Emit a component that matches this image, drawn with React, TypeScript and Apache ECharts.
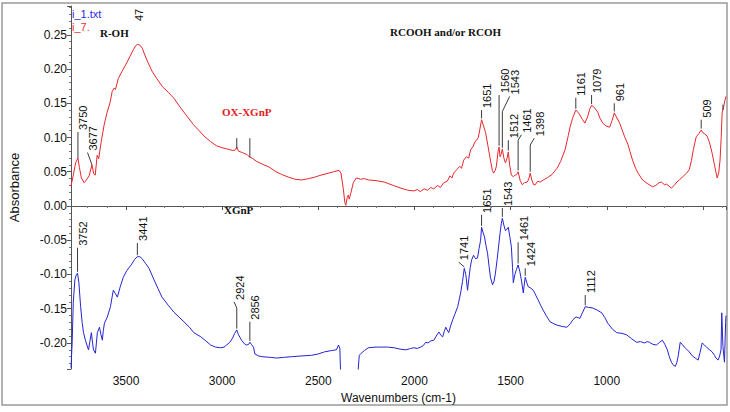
import React, { useEffect, useRef } from 'react';
import * as echarts from 'echarts';

// ---- OX-XGnP (red, "i_7.") spectrum: wavenumber (cm-1) / absorbance ----
const redWn = [3786, 3774, 3762, 3750, 3742, 3732, 3718, 3706, 3692, 3677, 3668, 3660, 3650, 3642, 3630, 3614, 3598, 3582, 3572, 3562, 3555, 3540, 3520, 3500, 3480, 3462, 3450, 3440, 3428, 3415, 3400, 3385, 3365, 3340, 3310, 3280, 3250, 3215, 3180, 3150, 3120, 3090, 3060, 3030, 3000, 2970, 2945, 2930, 2924, 2915, 2895, 2870, 2856, 2845, 2820, 2790, 2757, 2720, 2690, 2654, 2620, 2587, 2550, 2520, 2499, 2460, 2420, 2392, 2382, 2370, 2362, 2357, 2350, 2344, 2339, 2330, 2318, 2302, 2280, 2260, 2240, 2200, 2158, 2110, 2070, 2035, 2003, 1985, 1970, 1950, 1932, 1915, 1900, 1880, 1865, 1848, 1830, 1815, 1805, 1796, 1780, 1765, 1755, 1744, 1730, 1718, 1708, 1695, 1685, 1677, 1668, 1660, 1651, 1642, 1630, 1618, 1605, 1595, 1589, 1580, 1574, 1565, 1560, 1555, 1550, 1543, 1535, 1527, 1518, 1512, 1505, 1496, 1486, 1476, 1468, 1461, 1450, 1439, 1428, 1413, 1405, 1398, 1390, 1380, 1372, 1360, 1346, 1330, 1310, 1285, 1259, 1240, 1217, 1200, 1191, 1178, 1161, 1150, 1140, 1126, 1114, 1100, 1088, 1079, 1065, 1047, 1035, 1021, 1005, 985, 972, 961, 950, 933, 920, 907, 890, 880, 866, 850, 835, 814, 790, 762, 745, 728, 716, 700, 690, 676, 664, 650, 635, 623, 600, 585, 571, 560, 550, 535, 520, 509, 500, 490, 478, 465, 452, 440, 426, 418, 411, 405, 400, 392, 385, 380];
const redAbs = [0.029, 0.045, 0.063, 0.070, 0.056, 0.041, 0.034, 0.038, 0.044, 0.060, 0.047, 0.045, 0.074, 0.069, 0.092, 0.118, 0.137, 0.152, 0.167, 0.172, 0.170, 0.186, 0.197, 0.207, 0.218, 0.228, 0.234, 0.236, 0.235, 0.230, 0.219, 0.209, 0.197, 0.186, 0.174, 0.166, 0.157, 0.143, 0.130, 0.119, 0.110, 0.101, 0.094, 0.088, 0.085, 0.083, 0.081, 0.082, 0.086, 0.080, 0.078, 0.075, 0.071, 0.070, 0.065, 0.061, 0.057, 0.050, 0.046, 0.042, 0.039, 0.038, 0.040, 0.042, 0.044, 0.047, 0.050, 0.052, 0.048, 0.025, 0.005, 0.001, 0.012, 0.016, 0.010, 0.020, 0.034, 0.041, 0.039, 0.040, 0.038, 0.037, 0.035, 0.030, 0.026, 0.023, 0.022, 0.024, 0.021, 0.025, 0.023, 0.027, 0.025, 0.030, 0.027, 0.034, 0.036, 0.044, 0.041, 0.048, 0.053, 0.058, 0.055, 0.067, 0.072, 0.070, 0.082, 0.087, 0.094, 0.096, 0.100, 0.112, 0.126, 0.118, 0.107, 0.088, 0.067, 0.052, 0.048, 0.052, 0.058, 0.080, 0.086, 0.072, 0.075, 0.083, 0.070, 0.063, 0.070, 0.079, 0.060, 0.045, 0.043, 0.045, 0.046, 0.050, 0.037, 0.031, 0.034, 0.035, 0.040, 0.048, 0.038, 0.031, 0.031, 0.036, 0.035, 0.038, 0.041, 0.046, 0.055, 0.065, 0.082, 0.103, 0.115, 0.128, 0.140, 0.137, 0.133, 0.126, 0.121, 0.130, 0.142, 0.147, 0.144, 0.137, 0.128, 0.121, 0.117, 0.115, 0.125, 0.136, 0.130, 0.121, 0.111, 0.101, 0.090, 0.080, 0.067, 0.055, 0.047, 0.038, 0.033, 0.028, 0.030, 0.034, 0.035, 0.031, 0.032, 0.029, 0.026, 0.030, 0.035, 0.038, 0.044, 0.048, 0.053, 0.066, 0.082, 0.101, 0.106, 0.111, 0.107, 0.105, 0.102, 0.092, 0.077, 0.060, 0.041, 0.048, 0.067, 0.100, 0.136, 0.145, 0.155, 0.160];

// ---- XGnP (blue, "i_1.txt") spectrum ----
const blueWn = [3786, 3780, 3774, 3766, 3758, 3752, 3745, 3736, 3728, 3721, 3711, 3700, 3695, 3688, 3680, 3674, 3669, 3659, 3654, 3649, 3638, 3630, 3623, 3618, 3612, 3597, 3581, 3566, 3555, 3545, 3530, 3514, 3495, 3473, 3455, 3441, 3428, 3416, 3398, 3380, 3354, 3333, 3313, 3280, 3251, 3225, 3199, 3170, 3147, 3111, 3085, 3060, 3035, 3008, 2990, 2977, 2960, 2946, 2935, 2924, 2915, 2899, 2885, 2873, 2862, 2856, 2848, 2837, 2830, 2810, 2793, 2750, 2716, 2680, 2638, 2590, 2535, 2500, 2468, 2430, 2406, 2395, 2388, 2384, 2378, 2300, 2293, 2287, 2277, 2260, 2240, 2200, 2173, 2140, 2106, 2075, 2044, 2020, 2003, 1985, 1967, 1955, 1941, 1930, 1915, 1899, 1887, 1873, 1862, 1853, 1845, 1837, 1830, 1822, 1812, 1801, 1790, 1775, 1760, 1750, 1741, 1733, 1724, 1718, 1710, 1703, 1693, 1682, 1672, 1664, 1656, 1651, 1644, 1636, 1628, 1620, 1612, 1605, 1594, 1586, 1579, 1570, 1563, 1555, 1548, 1543, 1535, 1527, 1522, 1512, 1504, 1496, 1490, 1486, 1478, 1470, 1461, 1452, 1444, 1434, 1430, 1424, 1416, 1408, 1395, 1382, 1370, 1357, 1344, 1331, 1315, 1295, 1275, 1258, 1230, 1207, 1190, 1176, 1160, 1150, 1140, 1125, 1112, 1095, 1072, 1050, 1026, 1010, 995, 970, 948, 920, 897, 870, 845, 825, 804, 790, 778, 760, 742, 725, 711, 698, 685, 675, 664, 652, 643, 635, 628, 618, 608, 597, 585, 571, 555, 540, 525, 515, 504, 492, 478, 465, 452, 440, 432, 421, 413, 406, 402, 396, 388, 382, 380];
const blueAbs = [-0.236, -0.200, -0.140, -0.108, -0.100, -0.098, -0.112, -0.147, -0.170, -0.185, -0.196, -0.206, -0.210, -0.198, -0.185, -0.200, -0.210, -0.215, -0.200, -0.185, -0.177, -0.188, -0.196, -0.182, -0.171, -0.162, -0.147, -0.123, -0.128, -0.133, -0.118, -0.104, -0.094, -0.086, -0.078, -0.074, -0.074, -0.077, -0.084, -0.091, -0.108, -0.121, -0.133, -0.145, -0.155, -0.162, -0.169, -0.177, -0.185, -0.191, -0.197, -0.203, -0.206, -0.207, -0.206, -0.203, -0.199, -0.193, -0.186, -0.181, -0.188, -0.196, -0.201, -0.203, -0.202, -0.199, -0.202, -0.206, -0.216, -0.219, -0.220, -0.221, -0.222, -0.221, -0.220, -0.219, -0.218, -0.216, -0.213, -0.211, -0.210, -0.203, -0.208, -0.245, -0.300, -0.300, -0.240, -0.218, -0.215, -0.211, -0.207, -0.206, -0.206, -0.206, -0.207, -0.209, -0.210, -0.208, -0.207, -0.208, -0.206, -0.204, -0.199, -0.200, -0.197, -0.196, -0.190, -0.184, -0.189, -0.191, -0.183, -0.177, -0.181, -0.185, -0.175, -0.166, -0.158, -0.147, -0.127, -0.110, -0.091, -0.100, -0.123, -0.108, -0.090, -0.079, -0.072, -0.077, -0.076, -0.062, -0.050, -0.031, -0.038, -0.045, -0.058, -0.069, -0.088, -0.104, -0.115, -0.110, -0.098, -0.078, -0.060, -0.040, -0.025, -0.018, -0.028, -0.036, -0.035, -0.031, -0.045, -0.060, -0.090, -0.112, -0.100, -0.093, -0.086, -0.096, -0.108, -0.127, -0.117, -0.104, -0.112, -0.118, -0.120, -0.123, -0.130, -0.137, -0.145, -0.152, -0.160, -0.169, -0.172, -0.174, -0.176, -0.177, -0.172, -0.166, -0.162, -0.163, -0.164, -0.155, -0.147, -0.148, -0.149, -0.152, -0.156, -0.163, -0.171, -0.180, -0.185, -0.186, -0.188, -0.194, -0.199, -0.198, -0.200, -0.198, -0.199, -0.202, -0.203, -0.199, -0.196, -0.202, -0.210, -0.220, -0.228, -0.233, -0.234, -0.228, -0.218, -0.199, -0.202, -0.206, -0.209, -0.213, -0.219, -0.222, -0.225, -0.214, -0.200, -0.203, -0.207, -0.210, -0.213, -0.218, -0.222, -0.225, -0.219, -0.210, -0.156, -0.205, -0.228, -0.170, -0.160];

// ---- peak annotations: [peakWn, peakAbs, leaderBendAbs, leaderEndWn, leaderEndAbs] ----
const redPeakLabels = ['3750', '3677', '', '', '1651', '1560', '1543', '1512', '1461', '1398', '1161', '1079', '961', '509', ''];
const redPeaks = [
  [3750, 0.070, 0.108, 3750, 0.108],
  [3677, 0.060, 0.060, 3700, 0.078],
  [2924, 0.084, 0.099, 2924, 0.099],
  [2856, 0.071, 0.099, 2856, 0.099],
  [1651, 0.128, 0.140, 1651, 0.140],
  [1560, 0.088, 0.162, 1560, 0.162],
  [1543, 0.085, 0.138, 1505, 0.160],
  [1512, 0.081, 0.096, 1512, 0.096],
  [1461, 0.052, 0.096, 1444, 0.104],
  [1398, 0.050, 0.089, 1377, 0.099],
  [1161, 0.142, 0.158, 1161, 0.158],
  [1079, 0.149, 0.162, 1079, 0.162],
  [961, 0.138, 0.150, 961, 0.150],
  [509, 0.113, 0.126, 509, 0.126],
  [396, 0.140, 0.148, 396, 0.148],
];
const bluePeakLabels = ['3752', '3441', '2924', '2856', '1741', '1651', '1543', '1461', '1424', '1112'];
const bluePeaks = [
  [3752, -0.096, -0.061, 3752, -0.061],
  [3441, -0.072, -0.054, 3441, -0.054],
  [2924, -0.179, -0.149, 2938, -0.140],
  [2856, -0.197, -0.169, 2856, -0.169],
  [1741, -0.089, -0.089, 1770, -0.082],
  [1651, -0.029, -0.013, 1651, -0.013],
  [1543, -0.016, -0.003, 1543, -0.003],
  [1461, -0.084, -0.053, 1461, -0.053],
  [1424, -0.102, -0.091, 1424, -0.091],
  [1112, -0.145, -0.130, 1112, -0.130],
];

const xTickLabels = [1000, 1500, 2000, 2500, 3000, 3500];

const RED = '#e8262c';
const BLUE = '#2424d2';
const SANS = '"Liberation Sans", Arial, sans-serif';
const SERIF = '"Liberation Serif", "Times New Roman", serif';

const zip = (a: number[], b: number[]) => a.map((v, i) => [v, b[i]]);

const annoSeries = (rows: number[][], labels: string[]) => ({
  type: 'custom',
  coordinateSystem: 'cartesian2d',
  data: rows,
  encode: { x: [0, 3], y: [1, 2, 4] },
  clip: false,
  silent: true,
  z: 5,
  renderItem: (params: any, api: any) => {
    const p0 = api.coord([api.value(0), api.value(1)]);
    const p1 = api.coord([api.value(0), api.value(2)]);
    const p2 = api.coord([api.value(3), api.value(4)]);
    const label = labels[params.dataIndex];
    const children: any[] = [
      {
        type: 'polyline',
        shape: { points: [p0, p1, p2] },
        style: { stroke: '#3a3a3a', lineWidth: 1, fill: 'none' },
      },
    ];
    if (label) {
      children.push({
        type: 'text',
        x: p2[0] + 5.5,
        y: p2[1] - 2,
        rotation: Math.PI / 2,
        style: {
          text: label,
          fill: '#111',
          font: `11px ${SANS}`,
          align: 'left',
          verticalAlign: 'middle',
        },
      });
    }
    return { type: 'group', children };
  },
});

export default function App() {
  const ref = useRef<HTMLDivElement>(null);
  useEffect(() => {
    if (!ref.current) return;
    const chart = echarts.init(ref.current, undefined, { renderer: 'svg' });
    chart.setOption({
      animation: false,
      backgroundColor: '#ffffff',
      grid: { left: 68, right: 4, top: 6, bottom: 43 },
      xAxis: {
        type: 'value',
        inverse: true,
        min: 380,
        max: 3786,
        minInterval: 500,
        maxInterval: 500,
        name: 'Wavenumbers (cm-1)',
        nameLocation: 'middle',
        nameGap: 15,
        nameTextStyle: { fontFamily: SANS, fontSize: 12, color: '#111' },
        axisLine: { lineStyle: { color: '#555', width: 1 } },
        axisTick: { show: true, inside: false, length: 4, lineStyle: { color: '#555' } },
        minorTick: { show: true, splitNumber: 5, length: 2, lineStyle: { color: '#777' } },
        splitLine: { show: false },
        axisLabel: {
          margin: 6,
          fontFamily: SANS,
          fontSize: 12,
          color: '#111',
          formatter: (v: number) => (xTickLabels.includes(Math.round(v)) && Math.abs(v - Math.round(v)) < 1e-6 ? String(Math.round(v)) : ''),
        },
      },
      yAxis: {
        type: 'value',
        min: -0.238,
        max: 0.292,
        minInterval: 0.05,
        maxInterval: 0.05,
        name: 'Absorbance',
        nameLocation: 'middle',
        nameGap: 50,
        nameTextStyle: { fontFamily: SANS, fontSize: 13, color: '#111' },
        axisLine: { show: true, lineStyle: { color: '#555', width: 1 } },
        axisTick: { show: true, inside: false, length: 4, lineStyle: { color: '#555' } },
        minorTick: { show: true, splitNumber: 5, length: 2, lineStyle: { color: '#777' } },
        splitLine: { show: false },
        axisLabel: {
          margin: 4,
          fontFamily: SANS,
          fontSize: 12,
          color: '#111',
          formatter: (v: number) => {
            const k = v / 0.05;
            return Math.abs(k - Math.round(k)) < 1e-6 ? v.toFixed(2) : '';
          },
        },
      },
      series: [
        {
          name: 'i_1.txt',
          type: 'line',
          data: zip(blueWn, blueAbs),
          showSymbol: false,
          symbol: 'none',
          clip: true,
          lineStyle: { color: BLUE, width: 1 },
          itemStyle: { color: BLUE },
          z: 3,
        },
        {
          name: 'i_7.',
          type: 'line',
          data: zip(redWn, redAbs),
          showSymbol: false,
          symbol: 'none',
          clip: true,
          lineStyle: { color: RED, width: 1 },
          itemStyle: { color: RED },
          z: 3,
        },
        annoSeries(redPeaks, redPeakLabels),
        annoSeries(bluePeaks, bluePeakLabels),
      ],
      graphic: [
        { type: 'rect', shape: { x: 2, y: 3, width: 725, height: 402 }, style: { fill: 'none', stroke: '#9a9a9a', lineWidth: 1.5 }, silent: true },
        { type: 'text', left: 72, top: 8, z: 10, style: { text: 'i_1.txt', fill: '#2a2ae0', font: `11px ${SANS}` } },
        { type: 'text', left: 72, top: 21, z: 10, style: { text: 'i_7.', fill: '#f03030', font: `11px ${SANS}` } },
        { type: 'text', x: 139, y: 21, rotation: Math.PI / 2, style: { text: '47', fill: '#111', font: `11px ${SANS}`, align: 'left', verticalAlign: 'middle' } },
        { type: 'text', left: 100, top: 27, style: { text: 'R-OH', fill: '#111', font: `bold 11px ${SERIF}` } },
        { type: 'text', left: 390, top: 26, style: { text: 'RCOOH and/or RCOH', fill: '#111', font: `bold 11px ${SERIF}` } },
        { type: 'text', left: 222, top: 106, style: { text: 'OX-XGnP', fill: '#e02020', font: `bold 11px ${SERIF}` } },
        { type: 'text', left: 224, top: 204, style: { text: 'XGnP', fill: '#111', font: `bold 11px ${SERIF}` } },
      ],
    });
    return () => chart.dispose();
  }, []);
  return <div ref={ref} style={{ position: 'fixed', left: 0, top: 0, width: 730, height: 412, background: '#fff' }} />;
}
